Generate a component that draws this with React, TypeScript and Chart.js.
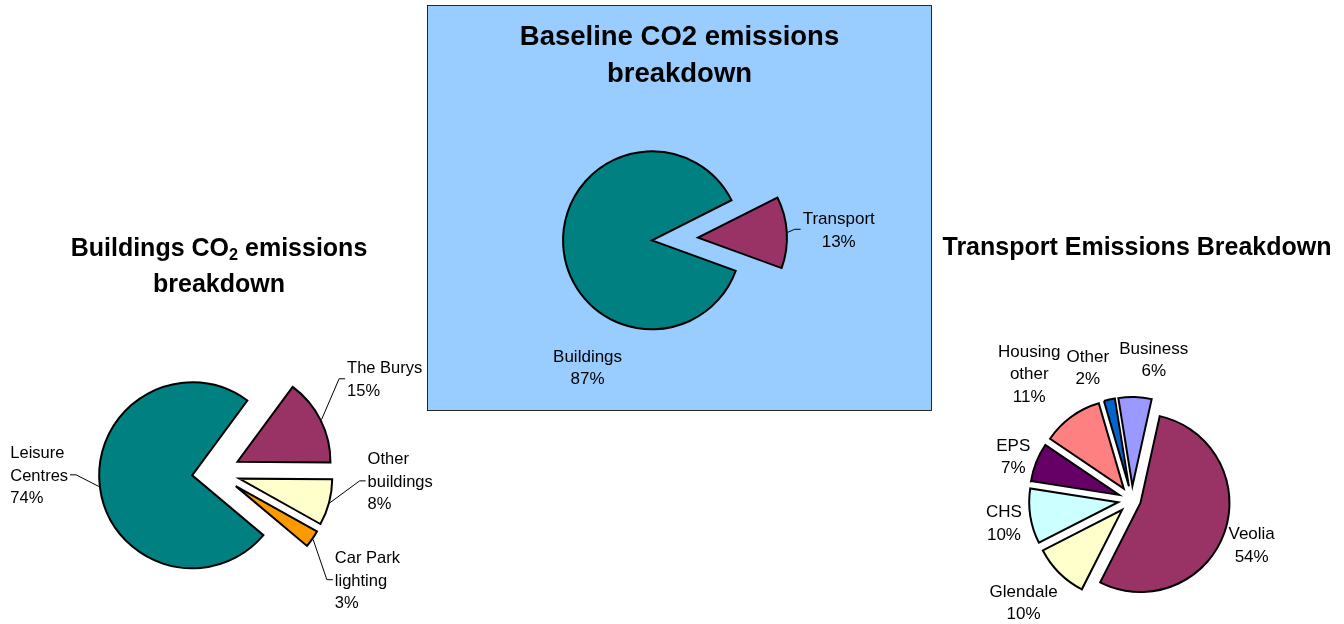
import React, { useEffect, useRef } from 'react';
import { Chart, registerables } from 'chart.js';

Chart.register(...registerables);

// ---------- data ----------
const buildingsCategories = ['Leisure Centres', 'The Burys', 'Other buildings', 'Car Park lighting'];
const buildingsValues = [74, 15, 8, 3];

const baselineCategories = ['Buildings', 'Transport'];
const baselineValues = [87, 13];

const transportCategories = ['Veolia', 'Glendale', 'CHS', 'EPS', 'Housing other', 'Other', 'Business'];
const transportValues = [54, 10, 10, 7, 11, 2, 6];

// ---------- styles ----------
const FONT = "'Liberation Sans', Arial, Helvetica, sans-serif";
const W = 1344;
const H = 624;
const LINE_H = 22.5;

type PieSpec = {
  labels: string[];
  values: number[];
  colors: string[];
  center: [number, number];
  radius: number;
  rotation: number;
  explode: number[];
  labelAngle: number[];
  labelGap: number[];
  leader: boolean[];
  align: 'left' | 'center';
  fontSize: number;
  wrapWidth: number;
};

const buildingsSpec: PieSpec = {
  labels: buildingsCategories,
  values: buildingsValues,
  colors: ['#008080', '#993366', '#FFFFCC', '#FF9900'],
  center: [216, 472.5],
  radius: 93,
  rotation: 130,
  explode: [24, 24, 24, 24],
  labelAngle: [7, -2.8, -14, 0.8],
  labelGap: [60, 76, 68, 68.5],
  leader: [true, true, true, true],
  align: 'left',
  fontSize: 16.5,
  wrapWidth: 80,
};

const baselineSpec: PieSpec = {
  labels: baselineCategories,
  values: baselineValues,
  colors: ['#008080', '#993366'],
  center: [675, 239],
  radius: 89,
  rotation: 110,
  explode: [23, 23],
  labelAngle: [-59.6, 0],
  labelGap: [53, 52],
  leader: [false, true],
  align: 'center',
  fontSize: 17,
  wrapWidth: 80,
};

const transportSpec: PieSpec = {
  labels: transportCategories,
  values: transportValues,
  colors: ['#993366', '#FFFFCC', '#CCFFFF', '#660066', '#FF8080', '#0066CC', '#9999FF'],
  center: [1132, 500],
  radius: 89,
  rotation: 12.5,
  explode: [9, 14, 14, 14, 14, 14, 14],
  labelAngle: [0.8, 2.1, -1, -1.2, -3.2, -6.3, 7.8],
  labelGap: [29.7, 45.7, 27, 23.7, 60.2, 37.2, 40],
  leader: [false, false, false, false, false, false, false],
  align: 'center',
  fontSize: 17,
  wrapWidth: 75,
};

function wrapText(ctx: CanvasRenderingContext2D, text: string, maxW: number): string[] {
  const words = text.split(' ');
  const lines: string[] = [];
  let cur = '';
  for (const w of words) {
    const test = cur ? cur + ' ' + w : w;
    if (cur && ctx.measureText(test).width > maxW) {
      lines.push(cur);
      cur = w;
    } else {
      cur = test;
    }
  }
  if (cur) lines.push(cur);
  return lines;
}

function makePlugin(spec: PieSpec) {
  return {
    id: 'pieExtras',
    afterDatasetUpdate(chart: any, args: any) {
      const meta = args.meta || chart.getDatasetMeta(args.index);
      meta.data.forEach((el: any, i: number) => {
        const mid = (el.startAngle + el.endAngle) / 2;
        const d = spec.explode[i] || 0;
        el.x += Math.cos(mid) * d;
        el.y += Math.sin(mid) * d;
      });
    },
    afterDatasetsDraw(chart: any) {
      const ctx: CanvasRenderingContext2D = chart.ctx;
      const meta = chart.getDatasetMeta(0);
      const total = spec.values.reduce((a, b) => a + b, 0);
      ctx.save();
      ctx.font = `${spec.fontSize}px ${FONT}`;
      ctx.fillStyle = '#000';
      ctx.strokeStyle = '#000';
      ctx.lineWidth = 1;
      ctx.textBaseline = 'alphabetic';
      ctx.textAlign = 'left';
      meta.data.forEach((el: any, i: number) => {
        const mid = (el.startAngle + el.endAngle) / 2;
        const a = mid + (spec.labelAngle[i] * Math.PI) / 180;
        const dist = el.outerRadius + spec.labelGap[i];
        const px = el.x + Math.cos(a) * dist;
        const py = el.y + Math.sin(a) * dist;
        const pct = Math.round((spec.values[i] / total) * 100) + '%';
        const lines = [...wrapText(ctx, spec.labels[i], spec.wrapWidth), pct];
        const capH = spec.fontSize * 0.716;
        const blockH = capH + (lines.length - 1) * LINE_H;
        const widths = lines.map((l) => ctx.measureText(l).width);
        const blockW = Math.max(...widths);
        const left = px - blockW / 2;
        const right = px + blockW / 2;
        const firstBase = py - blockH / 2 + capH;
        lines.forEach((l, k) => {
          const x = spec.align === 'left' ? left : px - widths[k] / 2;
          ctx.fillText(l, x, firstBase + k * LINE_H);
        });
        if (spec.leader[i]) {
          const ax = el.x + Math.cos(mid) * (el.outerRadius + 1);
          const ay = el.y + Math.sin(mid) * (el.outerRadius + 1);
          const onRight = px > el.x;
          const bx = onRight ? left - 8 : right + 8;
          const cx = onRight ? left - 2 : right + 2;
          ctx.beginPath();
          ctx.moveTo(ax, ay);
          ctx.lineTo(bx, py);
          ctx.lineTo(cx, py);
          ctx.stroke();
        }
      });
      ctx.restore();
    },
  };
}

function PieCanvas({ spec }: { spec: PieSpec }) {
  const ref = useRef<HTMLCanvasElement | null>(null);
  useEffect(() => {
    if (!ref.current) return;
    const [cx, cy] = spec.center;
    const padding = {
      left: Math.max(0, 2 * cx - W),
      right: Math.max(0, W - 2 * cx),
      top: Math.max(0, 2 * cy - H),
      bottom: Math.max(0, H - 2 * cy),
    };
    const chart = new Chart(ref.current, {
      type: 'pie',
      data: {
        labels: spec.labels,
        datasets: [
          {
            data: spec.values,
            backgroundColor: spec.colors,
            borderColor: '#000',
            borderWidth: 2,
            borderJoinStyle: 'miter',
            radius: spec.radius,
            rotation: spec.rotation,
            clip: false,
          } as any,
        ],
      },
      options: {
        responsive: false,
        animation: false,
        events: [],
        layout: { padding },
        plugins: {
          legend: { display: false },
          tooltip: { enabled: false },
          title: { display: false },
        },
      },
      plugins: [makePlugin(spec) as any],
    });
    return () => chart.destroy();
  }, [spec]);
  return (
    <canvas
      ref={ref}
      width={W}
      height={H}
      style={{ position: 'absolute', left: 0, top: 0, width: W, height: H, display: 'block' }}
    />
  );
}

const titleBase: React.CSSProperties = {
  position: 'absolute',
  fontFamily: FONT,
  fontWeight: 'bold',
  color: '#000',
  textAlign: 'center',
  whiteSpace: 'nowrap',
};

export default function App() {
  return (
    <div
      style={{
        position: 'absolute',
        left: 0,
        top: 0,
        width: W,
        height: H,
        overflow: 'hidden',
        background: '#fff',
      }}
    >
      <div
        style={{
          position: 'absolute',
          left: 427,
          top: 5,
          width: 505,
          height: 406,
          boxSizing: 'border-box',
          border: '1px solid #262626',
          background: '#99CCFF',
        }}
      />
      <PieCanvas spec={buildingsSpec} />
      <PieCanvas spec={baselineSpec} />
      <PieCanvas spec={transportSpec} />
      <div style={{ ...titleBase, left: 427, top: 18, width: 505, fontSize: 27.5, lineHeight: '36.5px' }}>
        Baseline CO2 emissions
        <br />
        breakdown
      </div>
      <div style={{ ...titleBase, left: 0, top: 229, width: 438, fontSize: 25, lineHeight: '36px' }}>
        Buildings CO
        <sub style={{ fontSize: '0.65em', lineHeight: 0, verticalAlign: '-0.25em' }}>2</sub> emissions
        <br />
        breakdown
      </div>
      <div style={{ ...titleBase, left: 937, top: 227.5, width: 400, fontSize: 25, lineHeight: '36px' }}>
        Transport Emissions Breakdown
      </div>
    </div>
  );
}
